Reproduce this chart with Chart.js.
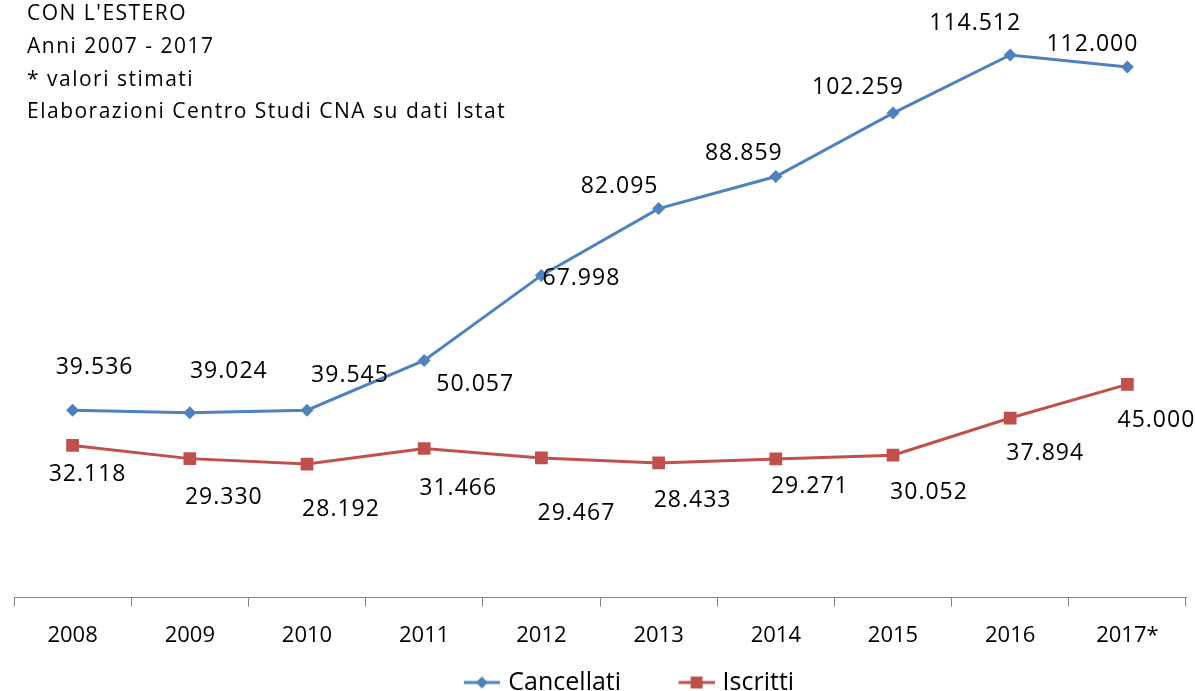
<!DOCTYPE html>
<html>
<head>
<meta charset="utf-8">
<script src="https://cdn.jsdelivr.net/npm/chart.js@4.4.1/dist/chart.umd.min.js"></script>
<style>
  html, body { margin: 0; padding: 0; background: #fff; }
  #wrap { width: 1195px; height: 691px; position: relative; }
</style>
</head>
<body>
<div id="wrap"><canvas id="chart_cnaEstero"></canvas></div>
<script>
// data
var categories = ['2008', '2009', '2010', '2011', '2012', '2013', '2014', '2015', '2016', '2017*'];
var cancellati = [39536, 39024, 39545, 50057, 67998, 82095, 88859, 102259, 114512, 112000];
var iscritti = [32118, 29330, 28192, 31466, 29467, 28433, 29271, 30052, 37894, 45000];
var noteLines = ["CON L'ESTERO", 'Anni 2007 - 2017', '* valori stimati', 'Elaborazioni Centro Studi CNA su dati Istat'];

// label offsets from the point (px), like Excel's manual label placement
var cancellatiLabelOffset = [[22, -43], [39, -41], [43, -35], [51, 24], [40, 3], [-39, -22], [-32, -23], [-35, -26], [-35, -32], [-35, -22]];
var iscrittiLabelOffset = [[15, 29], [34, 39], [34, 45], [34, 40], [35, 55], [34, 38], [34, 28], [36, 37], [35, 35], [29, 36]];

var BLUE = '#4F81BD';
var RED = '#C0504D';
var FONT = '"Open Sans", "DejaVu Sans", sans-serif';

function fmt(v) {
    return v.toLocaleString('it-IT');
}

// legend marker: short line with the series' point in the middle,
// drawn at the right end of a wider transparent canvas
function legendIcon(color, shape, width) {
    var c = document.createElement('canvas');
    c.width = width; c.height = 18;
    var g = c.getContext('2d');
    var x0 = width - 36, mid = width - 18;
    g.strokeStyle = color;
    g.lineWidth = 3;
    g.beginPath(); g.moveTo(x0, 9); g.lineTo(width, 9); g.stroke();
    g.fillStyle = color;
    if (shape === 'diamond') {
        g.beginPath(); g.moveTo(mid, 3); g.lineTo(mid + 6, 9); g.lineTo(mid, 15); g.lineTo(mid - 6, 9); g.closePath(); g.fill();
    } else {
        g.fillRect(mid - 6, 3, 12, 12);
    }
    return c;
}

var chart_cnaEstero = new Chart(document.getElementById('chart_cnaEstero'), {
    type: 'line',
    data: {
        labels: categories,
        datasets: [
            {
                label: 'Cancellati',
                data: cancellati,
                borderColor: BLUE,
                backgroundColor: BLUE,
                borderWidth: 3,
                pointStyle: 'rectRot',
                pointRadius: 6.5,
                pointBorderWidth: 0,
                labelOffset: cancellatiLabelOffset,
                legendIcon: legendIcon(BLUE, 'diamond', 92)
            },
            {
                label: 'Iscritti',
                data: iscritti,
                borderColor: RED,
                backgroundColor: RED,
                borderWidth: 3,
                pointStyle: 'rect',
                pointRadius: 9,
                pointBorderWidth: 0,
                labelOffset: iscrittiLabelOffset,
                legendIcon: legendIcon(RED, 'square', 93)
            }
        ]
    },
    options: {
        animation: false,
        responsive: true,
        maintainAspectRatio: false,
        layout: {
            padding: { top: 29, left: 14, right: 3, bottom: -14 }
        },
        plugins: {
            title: { display: false },
            tooltip: { enabled: false },
            legend: {
                position: 'bottom',
                labels: {
                    usePointStyle: true,
                    pointStyleWidth: 84,
                    color: '#000',
                    font: { family: FONT, size: 25 },
                    padding: 5,
                    generateLabels: function (chart) {
                        return chart.data.datasets.map(function (ds, i) {
                            return {
                                text: ds.label,
                                pointStyle: ds.legendIcon,
                                fillStyle: ds.borderColor,
                                strokeStyle: ds.borderColor,
                                lineWidth: 0,
                                fontColor: '#000',
                                hidden: false,
                                datasetIndex: i
                            };
                        });
                    }
                }
            }
        },
        scales: {
            x: {
                offset: true,
                grid: {
                    offset: true,
                    drawOnChartArea: false,
                    drawTicks: true,
                    tickLength: 9,
                    color: '#868686'
                },
                border: { color: '#868686', width: 1 },
                ticks: {
                    color: '#000',
                    font: { family: FONT, size: 22 },
                    padding: 16,
                    maxRotation: 0
                }
            },
            y: {
                display: false,
                min: 0,
                max: 120000
            }
        }
    },
    plugins: [{
        id: 'whiteBackground',
        beforeDraw: (chart) => {
            const ctx = chart.ctx;
            ctx.save();
            ctx.fillStyle = 'white';
            ctx.fillRect(0, 0, chart.width, chart.height);
            ctx.restore();
        }
    }, {
        id: 'noteText',
        afterDraw: (chart) => {
            const ctx = chart.ctx;
            ctx.save();
            ctx.fillStyle = '#000';
            ctx.font = '21px ' + FONT;
            ctx.letterSpacing = '1.5px';
            ctx.textBaseline = 'middle';
            ctx.textAlign = 'left';
            var ys = [14, 47, 80, 112];
            noteLines.forEach(function (t, i) { ctx.fillText(t, 27, ys[i]); });
            ctx.restore();
        }
    }, {
        id: 'pointValues',
        afterDatasetsDraw: (chart) => {
            const ctx = chart.ctx;
            ctx.save();
            ctx.fillStyle = '#000';
            ctx.font = '23px ' + FONT;
            ctx.letterSpacing = '1px';
            ctx.textAlign = 'center';
            ctx.textBaseline = 'middle';
            chart.data.datasets.forEach(function (ds, di) {
                var meta = chart.getDatasetMeta(di);
                meta.data.forEach(function (pt, i) {
                    var off = ds.labelOffset[i];
                    ctx.fillText(fmt(ds.data[i]), pt.x + off[0], pt.y + off[1]);
                });
            });
            ctx.restore();
        }
    }]
});
</script>
</body>
</html>
